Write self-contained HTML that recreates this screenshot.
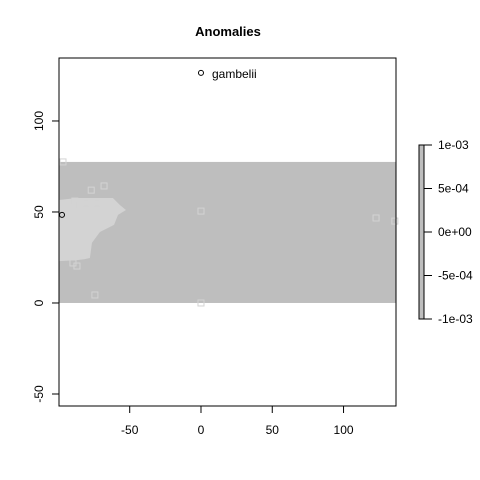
<!DOCTYPE html>
<html><head><meta charset="utf-8"><style>
body{margin:0;background:#fff}
svg{display:block;font-family:"Liberation Sans",Arial,sans-serif}
</style></head><body>
<svg id="chart" width="480" height="480" viewBox="0 0 480 480">
<text x="228" y="36" font-size="13" font-weight="bold" text-anchor="middle">Anomalies</text>
<g id="plot"></g>
<g id="axes"></g>
<g id="legend"></g>
</svg>
<script>
const xTicks=[-50,0,50,100];
const yTicks=[-50,0,50,100];
const rasterLon=[-99.6,136.8];
const rasterLat=[0,77.5];
const blobLon=[-99.6,-87,-61.8,-56.8,-52.6,-58.2,-61,-70.9,-76.5,-77.9,-82,-87.7,-99.6];
const blobLat=[56.6,57.7,57.7,53.8,51.1,48.4,42.9,39,33,24.7,24,23.5,23];
const ptLon=[-96.8,-77,-68,-88.5,-81,-73,-64,-60,-74.4,0,0,122.8,136,-89.8,-87,-93,-85];
const ptLat=[77.5,62,64.3,56,55,55,53,51,4.4,0,50.5,46.7,45,22,20.3,52,54];
const occLon=[0,-97.5];
const occLat=[126.4,48.4];
const occLabels=["gambelii",""];
const cbTicks=[0.001,0.0005,0,-0.0005,-0.001];
const cbLabels=["1e-03","5e-04","0e+00","-5e-04","-1e-03"];

const NS="http://www.w3.org/2000/svg";
const X0=59,X1=396,Y0=58,Y1=406;
const xmin=-99.6,xmax=136.8,ymin=-56.6,ymax=134.6;
const sx=v=>X0+(v-xmin)/(xmax-xmin)*(X1-X0);
const sy=v=>Y1-(v-ymin)/(ymax-ymin)*(Y1-Y0);
function mk(tag,attrs,parent){const e=document.createElementNS(NS,tag);for(const k in attrs)e.setAttribute(k,attrs[k]);parent.appendChild(e);return e;}
const plot=document.getElementById('plot'),axes=document.getElementById('axes'),leg=document.getElementById('legend');

let r=mk('rect',{x:sx(rasterLon[0]),y:sy(rasterLat[1]),width:sx(rasterLon[1])-sx(rasterLon[0]),height:sy(rasterLat[0])-sy(rasterLat[1]),fill:'#bebebe'},plot);


let pts=blobLon.map((v,i)=>sx(v)+','+sy(blobLat[i])).join(' ');
let b=mk('polygon',{points:pts,fill:'#d3d3d3'},plot);


ptLon.forEach((v,i)=>{
 const s=mk('rect',{x:sx(v)-3,y:sy(ptLat[i])-3,width:6,height:6,fill:'none',stroke:'#d3d3d3','stroke-width':1},plot);
 
 
});
occLon.forEach((v,i)=>{
 const c=mk('circle',{cx:sx(v),cy:sy(occLat[i]),r:2.5,fill:'none',stroke:'#000','stroke-width':1},plot);
 
 
 if(occLabels[i]){
  const t=mk('text',{x:sx(v)+11,y:sy(occLat[i])+5,'font-size':12},plot);
  t.textContent=occLabels[i];
  
  
 }
});
let box=mk('rect',{x:X0,y:Y0,width:X1-X0,height:Y1-Y0,fill:'none',stroke:'#000','stroke-width':1},axes);


xTicks.forEach(v=>{
 const l=mk('line',{x1:sx(v),x2:sx(v),y1:Y1,y2:Y1+7,stroke:'#000'},axes);
 
 
 const t=mk('text',{x:sx(v),y:Y1+28,'font-size':12,'text-anchor':'middle'},axes);
 t.textContent=v;
 
 
});
yTicks.forEach(v=>{
 const l=mk('line',{x1:X0-7,x2:X0,y1:sy(v),y2:sy(v),stroke:'#000'},axes);
 
 
 const t=mk('text',{x:X0-16,y:sy(v),'font-size':12,'text-anchor':'middle',transform:`rotate(-90 ${X0-16} ${sy(v)})`},axes);
 t.textContent=v;
 
 
});
const cy=v=>319-(v+0.001)/0.002*174;
let cb=mk('rect',{x:419,y:cy(0.001),width:5,height:174,fill:'#bebebe',stroke:'#000','stroke-width':1},leg);


cbTicks.forEach((v,i)=>{
 const l=mk('line',{x1:424,x2:432,y1:cy(v),y2:cy(v),stroke:'#000'},leg);
 
 
 const t=mk('text',{x:438,y:cy(v)+4,'font-size':12},leg);
 t.textContent=cbLabels[i];
 
 
});
</script>
</body></html>
